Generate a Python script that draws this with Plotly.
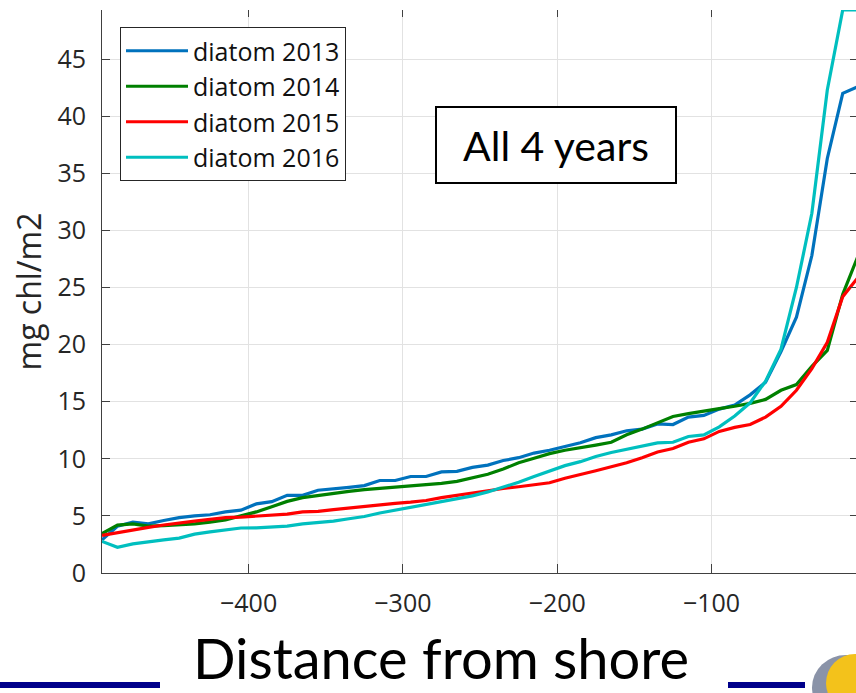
import plotly.graph_objects as go

# ---------------- data ----------------
distance = [-495, -485, -475, -465, -455, -445, -435, -425, -415, -405,
            -395, -385, -375, -365, -355, -345, -335, -325, -315, -305,
            -295, -285, -275, -265, -255, -245, -235, -225, -215, -205,
            -195, -185, -175, -165, -155, -145, -135, -125, -115, -105,
            -95, -85, -75, -65, -55, -45, -35, -25, -15, -5]

diatom_2013 = [2.9, 4.1, 4.45, 4.3, 4.6, 4.85, 5.0, 5.1, 5.35, 5.5,
               6.05, 6.25, 6.8, 6.8, 7.25, 7.35, 7.5, 7.65, 8.1, 8.1,
               8.45, 8.45, 8.85, 8.9, 9.25, 9.45, 9.85, 10.1, 10.5, 10.75,
               11.1, 11.4, 11.85, 12.1, 12.45, 12.6, 13.05, 13.0, 13.65, 13.8,
               14.35, 14.7, 15.6, 16.7, 19.4, 22.4, 27.8, 36.3, 42.0, 42.6]

diatom_2014 = [3.45, 4.2, 4.3, 4.1, 4.15, 4.2, 4.3, 4.45, 4.65, 5.0,
               5.35, 5.8, 6.27, 6.6, 6.8, 7.0, 7.15, 7.3, 7.4, 7.55,
               7.65, 7.73, 7.85, 8.02, 8.3, 8.65, 9.1, 9.65, 10.05, 10.45,
               10.75, 10.95, 11.2, 11.45, 12.1, 12.6, 13.15, 13.7, 13.95, 14.2,
               14.4, 14.6, 14.85, 15.2, 16.0, 16.5, 18.1, 19.5, 24.4, 27.8]

diatom_2015 = [3.3, 3.55, 3.8, 4.0, 4.2, 4.4, 4.55, 4.7, 4.85, 4.9,
               5.0, 5.1, 5.15, 5.35, 5.4, 5.55, 5.7, 5.8, 5.95, 6.1,
               6.2, 6.35, 6.6, 6.8, 7.0, 7.25, 7.4, 7.55, 7.7, 7.9,
               8.3, 8.6, 8.95, 9.3, 9.65, 10.1, 10.6, 10.9, 11.45, 11.75,
               12.4, 12.75, 13.0, 13.65, 14.6, 16.0, 17.9, 20.2, 24.2, 25.9]

diatom_2016 = [2.77, 2.25, 2.55, 2.75, 2.9, 3.05, 3.4, 3.6, 3.75, 3.94,
               3.95, 4.05, 4.1, 4.3, 4.4, 4.55, 4.75, 4.95, 5.25, 5.5,
               5.75, 5.95, 6.2, 6.45, 6.75, 7.1, 7.5, 7.95, 8.45, 8.9,
               9.4, 9.75, 10.2, 10.55, 10.85, 11.1, 11.4, 11.45, 11.95, 12.1,
               12.8, 13.75, 14.9, 16.8, 19.6, 25.0, 31.5, 42.3, 49.3, 49.3]

series_names = ["diatom 2013", "diatom 2014", "diatom 2015", "diatom 2016"]
series_values = [diatom_2013, diatom_2014, diatom_2015, diatom_2016]
series_colors = ["#0072BD", "#008000", "#FF0000", "#00BFBF"]

x_ticks = [-400, -300, -200, -100]
y_ticks = [0, 5, 10, 15, 20, 25, 30, 35, 40, 45]

# ---------------- figure ----------------
W, H = 856, 693
ML, MR, MT, MB = 102, 0, 10, 120
PW, PH = W - ML - MR, H - MT - MB

def px2paper_x(px):
    return (px - ML) / PW

def py2paper_y(py):
    return (H - MB - py) / PH

fig = go.Figure()
for name, vals, col in zip(series_names, series_values, series_colors):
    fig.add_trace(go.Scatter(x=distance, y=vals, mode="lines", name=name,
                             line=dict(color=col, width=3.2)))

# invisible trace to carry the mirrored (top/right) tick axes
fig.add_trace(go.Scatter(x=distance, y=diatom_2013, xaxis="x2", yaxis="y2",
                         mode="lines", line=dict(width=0), opacity=0,
                         showlegend=False, hoverinfo="skip"))

tick_font = dict(family="Open Sans", size=25, color="#262626")
axis_col = "#404040"
grid_col = "#e2e2e2"

fig.update_layout(
    width=W, height=H,
    margin=dict(l=ML, r=MR, t=MT, b=MB, pad=0),
    paper_bgcolor="white", plot_bgcolor="white",
    showlegend=True,
    xaxis=dict(range=[-495, -6.4], tickvals=x_ticks, ticks="inside", ticklen=9,
               tickcolor=axis_col, showline=True, linecolor=axis_col, linewidth=1,
               showgrid=True, gridcolor=grid_col, gridwidth=1, zeroline=False,
               tickfont=tick_font, ticklabelstandoff=8),
    yaxis=dict(range=[0, 49.3], tickvals=y_ticks, ticks="inside", ticklen=8,
               tickcolor=axis_col, showline=True, linecolor=axis_col, linewidth=1,
               showgrid=True, gridcolor=grid_col, gridwidth=1, zeroline=False,
               tickfont=tick_font, ticklabelstandoff=10,
               title=dict(text="mg chl/m2", font=dict(family="Open Sans", size=32, color="#262626"),
                          standoff=6)),
    xaxis2=dict(overlaying="x", matches="x", side="top", anchor="y", tickvals=x_ticks,
                ticks="inside", ticklen=7, tickcolor=axis_col, showticklabels=False,
                showgrid=False, showline=False, zeroline=False),
    yaxis2=dict(overlaying="y", matches="y", side="right", anchor="x", tickvals=y_ticks,
                ticks="inside", ticklen=6, tickcolor=axis_col, showticklabels=False,
                showgrid=False, showline=False, zeroline=False),
    legend=dict(x=(120 - ML) / PW, y=(H - MB - 27) / PH, xanchor="left", yanchor="top",
                bgcolor="white", bordercolor="#262626", borderwidth=1,
                font=dict(family="Open Sans", size=25, color="#111111"),
                tracegroupgap=0, itemwidth=62),
)

# "All 4 years" text box
fig.add_annotation(xref="paper", yref="paper",
                   x=(556 - ML) / PW, y=(H - MB - 145) / PH,
                   text="All 4 years", showarrow=False,
                   font=dict(family="Lato", size=41, color="black"),
                   bordercolor="black", borderwidth=2, bgcolor="white",
                   width=236, height=72, xanchor="center", yanchor="middle")

# slide title below the chart
fig.add_annotation(xref="paper", yref="paper",
                   x=px2paper_x(441), y=py2paper_y(692),
                   text="Distance from shore", showarrow=False,
                   font=dict(family="Lato", size=56, color="black"),
                   xanchor="center", yanchor="bottom", borderpad=0)

# slide decoration bars and logo hint
for x0, x1 in [(0, 160), (728, 805)]:
    fig.add_shape(type="rect", xref="paper", yref="paper",
                  x0=px2paper_x(x0), x1=px2paper_x(x1),
                  y0=py2paper_y(688), y1=py2paper_y(682),
                  fillcolor="#00008B", line=dict(width=0), layer="above")

fig.add_shape(type="circle", xref="paper", yref="paper",
              x0=px2paper_x(812), x1=px2paper_x(880),
              y0=py2paper_y(720), y1=py2paper_y(655),
              fillcolor="#8a93a8", line=dict(width=0), layer="above")
fig.add_shape(type="circle", xref="paper", yref="paper",
              x0=px2paper_x(826), x1=px2paper_x(884),
              y0=py2paper_y(712), y1=py2paper_y(654),
              fillcolor="#f3c21b", line=dict(width=0), layer="above")

fig.write_html("out.html")
